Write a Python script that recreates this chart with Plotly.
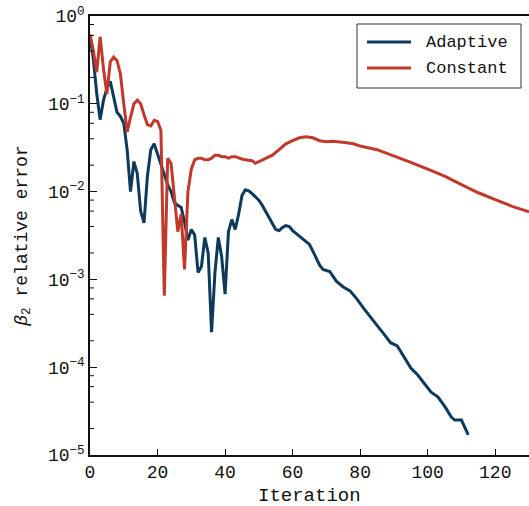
import math
import plotly.graph_objects as go

# Adaptive series (iteration, beta2 relative error)
adaptive_iter = [0, 1, 2, 3, 4, 5, 6, 7, 8, 9, 10, 11, 12, 13, 14, 15, 16, 17, 18, 19,
                 20, 21, 22, 23, 24, 25, 26, 27, 28, 29, 30, 31, 32, 33, 34, 35, 36, 37, 38, 39,
                 40, 41, 42, 43, 44, 45, 46, 47, 48, 49, 50, 51, 52, 53, 54, 55, 56, 57, 58, 59,
                 60, 62, 64, 65, 66, 68, 69, 71, 73, 75, 77, 79, 81, 83, 85, 87, 89, 91, 93, 95,
                 97, 99, 101, 103, 105, 107, 108, 110, 111, 112]
adaptive_err = [0.60, 0.32, 0.13, 0.066, 0.11, 0.15, 0.18, 0.12, 0.08, 0.072, 0.06, 0.03, 0.010,
                0.022, 0.016, 0.006, 0.0044, 0.015, 0.030, 0.035, 0.027, 0.020, 0.016, 0.012,
                0.010, 0.0075, 0.007, 0.0066, 0.0045, 0.0028, 0.0037, 0.0032, 0.0012, 0.0014,
                0.0030, 0.0020, 0.00025, 0.0012, 0.0030, 0.0018, 0.00068, 0.0035, 0.0048,
                0.0037, 0.0055, 0.0090, 0.0105, 0.0102, 0.0095, 0.0088, 0.0080, 0.0070, 0.0060,
                0.0050, 0.0043, 0.0037, 0.0036, 0.0039, 0.0041, 0.0040, 0.0036, 0.0031, 0.0027,
                0.0025, 0.0021, 0.00145, 0.00130, 0.00123, 0.00095, 0.00082, 0.00074, 0.00060,
                0.00047, 0.00038, 0.00030, 0.00024, 0.00019, 0.000175, 0.000130, 0.000098,
                0.000082, 0.000065, 0.000052, 0.000046, 0.000036, 0.000027, 0.000025,
                0.000025, 0.000021, 0.000017]

# Constant series
constant_iter = [0, 1, 2, 3, 4, 5, 6, 7, 8, 9, 10, 11, 12, 13, 14, 15, 16, 17, 18, 19,
                 20, 21, 22, 23, 24, 25, 26, 27, 28, 29, 30, 31, 32, 33, 34, 35, 36, 37, 38, 39,
                 40, 41, 42, 43, 44, 45, 46, 48, 49, 50, 52, 54, 56, 58, 60, 62, 64, 66, 68, 70,
                 72, 74, 76, 78, 80, 85, 90, 95, 100, 105, 110, 115, 120, 125, 130]
constant_err = [0.62, 0.40, 0.23, 0.58, 0.25, 0.13, 0.30, 0.34, 0.31, 0.22, 0.10, 0.048, 0.07,
                0.10, 0.11, 0.10, 0.075, 0.058, 0.056, 0.065, 0.063, 0.05, 0.00065, 0.024, 0.021,
                0.009, 0.0035, 0.0055, 0.0013, 0.010, 0.018, 0.023, 0.024, 0.024, 0.023, 0.023,
                0.024, 0.026, 0.026, 0.025, 0.025, 0.024, 0.025, 0.025, 0.024, 0.0235, 0.023,
                0.0225, 0.021, 0.022, 0.024, 0.026, 0.030, 0.035, 0.038, 0.041, 0.042, 0.041,
                0.038, 0.037, 0.0375, 0.037, 0.036, 0.035, 0.033, 0.030, 0.0255, 0.0215, 0.018,
                0.015, 0.012, 0.0097, 0.0081, 0.0068, 0.0059]

series_names = ["Adaptive", "Constant"]
x_ticks = [0, 20, 40, 60, 80, 100, 120]
y_ticks = [1e0, 1e-1, 1e-2, 1e-3, 1e-4, 1e-5]
y_tick_text = ["10<sup>0</sup>", "10<sup>\u22121</sup>", "10<sup>\u22122</sup>",
               "10<sup>\u22123</sup>", "10<sup>\u22124</sup>", "10<sup>\u22125</sup>"]
y_minor = [m * 10 ** e for e in range(-5, 0) for m in (2, 4, 6, 8)]

FONT = "Liberation Mono"
BLUE = "#0d3a5c"
RED = "#c0392b"
INK = "#111"

W, H = 529, 506
ML, MR, MT, MB = 90, 0, 16, 51
PW, PH = W - ML - MR, H - MT - MB
YMIN, YMAX = -5, 0


def px_x(px):
    return (px - ML) / PW


def px_y(py):
    return 1 - (py - MT) / PH


fig = go.Figure()
fig.add_trace(go.Scatter(x=adaptive_iter, y=adaptive_err, mode="lines", name=series_names[0],
                         line=dict(color=BLUE, width=3), showlegend=False))
fig.add_trace(go.Scatter(x=constant_iter, y=constant_err, mode="lines", name=series_names[1],
                         line=dict(color=RED, width=3), showlegend=False))

shapes = []
# minor y ticks (inside)
for v in y_minor:
    yp = (math.log10(v) - YMIN) / (YMAX - YMIN)
    shapes.append(dict(type="line", xref="paper", yref="paper", x0=0, x1=4 / PW, y0=yp, y1=yp,
                       line=dict(color=INK, width=1)))

# legend box
shapes.append(dict(type="rect", xref="paper", yref="paper",
                   x0=px_x(357), x1=px_x(521), y0=px_y(88), y1=px_y(24),
                   fillcolor="white", line=dict(color="#333", width=1), layer="above"))
annotations = []
for name, color, py in [(series_names[0], BLUE, 42), (series_names[1], RED, 68)]:
    shapes.append(dict(type="line", xref="paper", yref="paper",
                       x0=px_x(367), x1=px_x(411), y0=px_y(py), y1=px_y(py),
                       line=dict(color=color, width=3), layer="above"))
    annotations.append(dict(text=name, xref="paper", yref="paper", x=px_x(424), y=px_y(py),
                            xanchor="left", yanchor="middle", showarrow=False,
                            font=dict(family=FONT, size=17, color=INK)))

# x-axis title
annotations.append(dict(text="Iteration", xref="paper", yref="paper", x=0.5, y=px_y(496),
                        xanchor="center", yanchor="middle", showarrow=False,
                        font=dict(family=FONT, size=19, color=INK)))

fig.update_layout(
    width=W, height=H,
    margin=dict(l=ML, r=MR, t=MT, b=MB, autoexpand=False),
    paper_bgcolor="white", plot_bgcolor="white",
    font=dict(family=FONT, size=18, color=INK),
    showlegend=False,
    shapes=shapes,
    annotations=annotations,
    xaxis=dict(range=[0, 130], tickmode="array", tickvals=x_ticks, automargin=False,
               ticks="inside", ticklen=6, tickwidth=1, tickcolor=INK,
               showline=True, linecolor=INK, linewidth=1.5, mirror=True,
               showgrid=False, zeroline=False),
    yaxis=dict(type="log", range=[YMIN, YMAX], tickmode="array", tickvals=y_ticks,
               ticktext=y_tick_text, automargin=False,
               ticks="inside", ticklen=7, tickwidth=1, tickcolor=INK,
               showline=True, linecolor=INK, linewidth=1.5, mirror=False,
               showgrid=False, zeroline=False,
               title=dict(text="<i>\u03b2</i><sub>2</sub> relative error",
                          font=dict(size=18), standoff=16)),
)

fig.write_html("out.html")
